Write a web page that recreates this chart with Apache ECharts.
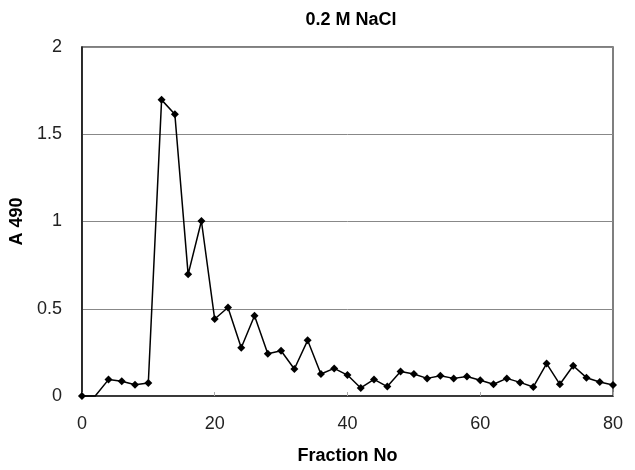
<!DOCTYPE html>
<html>
<head>
<meta charset="utf-8">
<script src="https://cdn.jsdelivr.net/npm/echarts@6/dist/echarts.min.js"></script>
<style>html,body{margin:0;padding:0;background:#fff}#c{width:635px;height:470px}</style>
</head>
<body>
<div id="c"></div>
<script>
const fractions = [0,2,4,6,8,10,12,14,16,18,20,22,24,26,28,30,32,34,36,38,40,42,44,46,48,50,52,54,56,58,60,62,64,66,68,70,72,74,76,78,80];
const a490 = [0,0,0.094,0.085,0.064,0.075,1.697,1.614,0.697,1.003,0.441,0.507,0.276,0.46,0.242,0.259,0.155,0.319,0.126,0.158,0.12,0.046,0.095,0.054,0.141,0.126,0.101,0.116,0.101,0.112,0.09,0.067,0.101,0.078,0.052,0.186,0.067,0.173,0.105,0.08,0.063];
const xTicks = [0,20,40,60,80];
const yTicks = [0,0.5,1,1.5,2];
const noMarker = [1];

const chart = echarts.init(document.getElementById('c'), null, {renderer:'canvas'});
const font = 'Liberation Sans, Arial, sans-serif';
chart.setOption({
  animation:false,
  backgroundColor:'#fff',
  title:{text:'0.2 M NaCl', left:346, top:6, textAlign:'center',
    textStyle:{fontFamily:font, fontSize:18, fontWeight:'bold', color:'#000'}},
  grid:{left:79, right:22, top:47, bottom:71, show:true, borderColor:'#555', borderWidth:1.5, backgroundColor:'transparent'},
  xAxis:{type:'value', min:0, max:80, interval:20,
    name:'Fraction No', nameLocation:'middle', nameGap:51,
    nameTextStyle:{fontFamily:font, fontSize:18, fontWeight:'bold', color:'#000'},
    axisLine:{lineStyle:{color:'#222', width:1.5}},
    axisTick:{show:true, inside:true, length:4, lineStyle:{color:'#aaa'}},
    axisLabel:{fontFamily:font, fontSize:18, color:'#222', margin:19,
      formatter:v=>xTicks.includes(v)?String(v):''},
    splitLine:{show:false}},
  yAxis:{type:'value', min:0, max:2, interval:0.5,
    name:'A 490', nameLocation:'middle', nameGap:50,
    nameTextStyle:{fontFamily:font, fontSize:18, fontWeight:'bold', color:'#000'},
    axisLine:{show:true, lineStyle:{color:'#111', width:1.5}},
    axisTick:{show:false},
    axisLabel:{fontFamily:font, fontSize:18, color:'#222', margin:20,
      formatter:v=>yTicks.includes(v)?String(v):''},
    splitLine:{show:true, lineStyle:{color:'#888', width:1}}},
  series:[{
    type:'line',
    data:fractions.map((f,i)=>[f,a490[i]]),
    symbol:'diamond',
    symbolSize:(v,p)=>noMarker.includes(p.dataIndex)?0:8,
    lineStyle:{color:'#000', width:1.5},
    itemStyle:{color:'#000'},
    clip:false
  }]
});
</script>
</body>
</html>
